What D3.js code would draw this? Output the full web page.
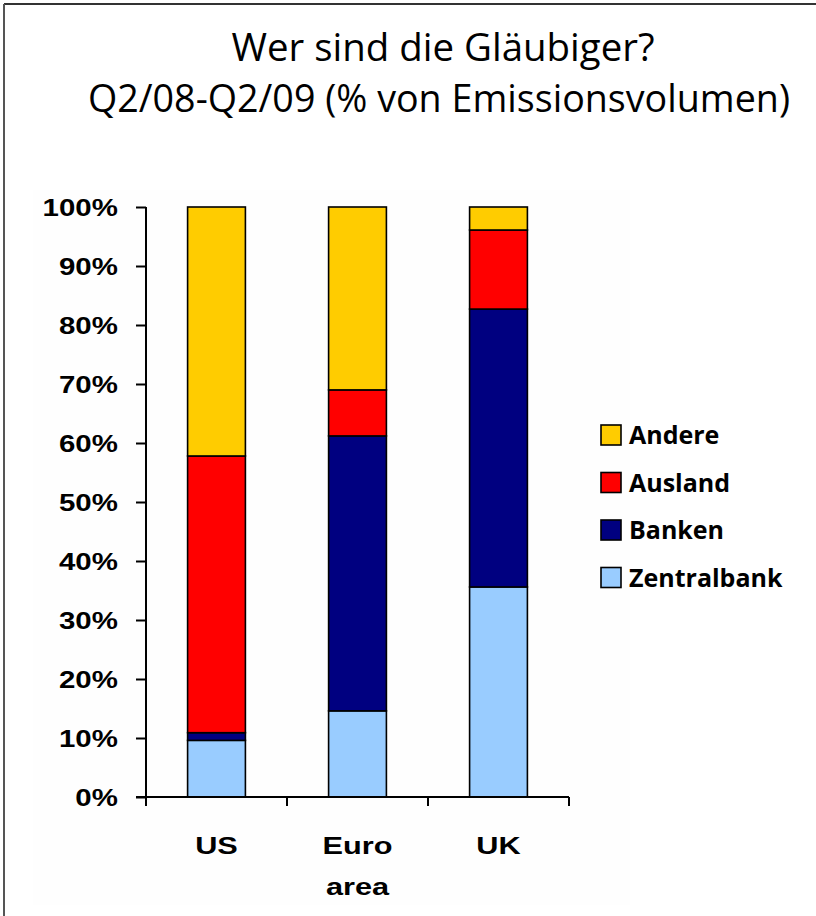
<!DOCTYPE html>
<html>
<head>
<meta charset="utf-8">
<script src="https://cdn.jsdelivr.net/npm/d3@7"></script>
<style>
  html, body { margin: 0; padding: 0; background: #fff; }
  svg { display: block; }
</style>
</head>
<body>
<svg id="chart" width="816" height="916"></svg>
<script>
// ---- data ----
const categories = ["US", "Euro area", "UK"];
const categoryLines = [["US"], ["Euro", "area"], ["UK"]];
const seriesNames = ["Zentralbank", "Banken", "Ausland", "Andere"];
const zentralbank = [9.6, 14.6, 35.6];
const banken      = [1.3, 46.6, 47.1];
const ausland     = [46.9, 7.8, 13.4];
const andere      = [42.2, 31.0, 3.9];
const seriesColors = ["#99CCFF", "#000080", "#FF0000", "#FFCC00"];
const yTicks = [0, 10, 20, 30, 40, 50, 60, 70, 80, 90, 100];
const legendOrder = ["Andere", "Ausland", "Banken", "Zentralbank"];
const titleLines = ["Wer sind die Gläubiger?", "Q2/08-Q2/09 (% von Emissionsvolumen)"];

const svg = d3.select("#chart");

// frame (top & left edge) and faint plot background
svg.append("rect").attr("x", 33).attr("y", 190).attr("width", 597).attr("height", 715).attr("fill", "#fefefe");
svg.append("line").attr("x1", 4).attr("y1", 4).attr("x2", 816).attr("y2", 4).attr("stroke", "#333").attr("stroke-width", 2);
svg.append("line").attr("x1", 4).attr("y1", 4).attr("x2", 4).attr("y2", 916).attr("stroke", "#555").attr("stroke-width", 2);

// title
const tl = svg.append("g");
const titleGeom = [{x: 443, y: 61, w: 423}, {x: 439, y: 112, w: 702}];
titleLines.forEach((t, i) => {
  tl.append("text")
    .attr("x", titleGeom[i].x).attr("y", titleGeom[i].y)
    .attr("text-anchor", "middle")
    .attr("textLength", titleGeom[i].w)
    .attr("lengthAdjust", "spacingAndGlyphs")
    .style("font-family", "'Open Sans', 'Noto Sans', sans-serif")
    .style("font-size", "38px")
    .style("fill", "#000")
    .text(t);
});

// scales
const x = d3.scaleBand().domain(categories).range([146, 569]).paddingInner(0.59).paddingOuter(0.295);
const y = d3.scaleLinear().domain([0, 100]).range([797, 207]);

// stack
const rows = categories.map((c, i) => ({
  cat: c, Zentralbank: zentralbank[i], Banken: banken[i], Ausland: ausland[i], Andere: andere[i]
}));
const stack = d3.stack().keys(seriesNames)(rows);
const color = d3.scaleOrdinal().domain(seriesNames).range(seriesColors);

const g = svg.append("g");
stack.forEach(layer => {
  g.selectAll(null).data(layer).enter().append("rect")
    .attr("x", d => x(d.data.cat))
    .attr("width", x.bandwidth())
    .attr("y", d => y(Math.min(100, d[1])))
    .attr("height", d => y(d[0]) - y(Math.min(100, d[1])))
    .attr("fill", color(layer.key))
    .attr("stroke", "#000")
    .attr("stroke-width", 1.6);
});

const fontArial = "'Liberation Sans', Arial, sans-serif";

// y axis
const yAxis = d3.axisLeft(y).tickValues(yTicks).tickSize(10).tickPadding(0).tickFormat(d => d + "%");
const ya = svg.append("g").attr("transform", "translate(146,0)").call(yAxis);
ya.select(".domain").attr("stroke", "#000").attr("stroke-width", 2).attr("d", "M0,207V806");
ya.selectAll(".tick line").attr("stroke", "#000").attr("stroke-width", 2);
ya.selectAll(".tick text")
  .attr("x", -22).attr("dy", "0.36em")
  .attr("transform", "scale(1.28,1)")
  .style("font-family", fontArial).style("font-weight", "bold").style("font-size", "23px")
  .style("fill", "#000");

// x axis
const xa = svg.append("g").attr("transform", "translate(0,797)");
xa.append("line").attr("x1", 136).attr("x2", 569).attr("y1", 0).attr("y2", 0).attr("stroke", "#000").attr("stroke-width", 2);
const step = x.step();
const boundaries = [0, 1, 2, 3].map(i => 146 + i * step);
xa.selectAll(".bt").data(boundaries).enter().append("line")
  .attr("x1", d => d).attr("x2", d => d).attr("y1", 0).attr("y2", 9)
  .attr("stroke", "#000").attr("stroke-width", 2);
categoryLines.forEach((lines, i) => {
  const cx = x(categories[i]) + x.bandwidth() / 2;
  lines.forEach((ln, j) => {
    xa.append("g").attr("transform", `translate(${cx},${57 + j * 41}) scale(1.28,1)`)
      .append("text").attr("text-anchor", "middle")
      .style("font-family", fontArial).style("font-weight", "bold").style("font-size", "24px")
      .style("fill", "#000")
      .text(ln);
  });
});

// legend
const lg = svg.append("g");
legendOrder.forEach((name, i) => {
  const yy = 435 + i * 47.5;
  lg.append("rect").attr("x", 601).attr("y", yy - 10).attr("width", 20).attr("height", 20)
    .attr("fill", color(name)).attr("stroke", "#000").attr("stroke-width", 1.6);
  lg.append("text").attr("x", 629).attr("y", yy + 9)
    .style("font-family", "'Open Sans', 'Noto Sans', sans-serif").style("font-weight", "bold")
    .style("font-size", "25px").style("fill", "#000")
    .text(name);
});
</script>
</body>
</html>
